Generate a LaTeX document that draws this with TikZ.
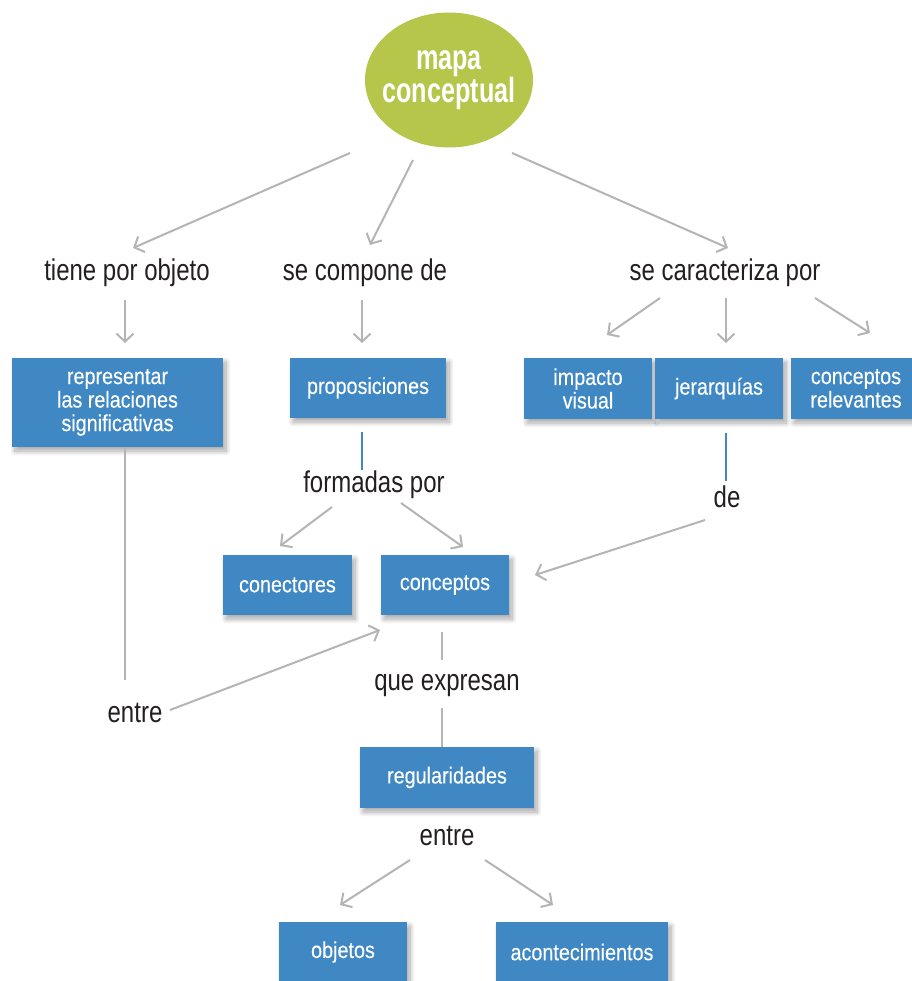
\documentclass[tikz,border=0pt]{standalone}
\usepackage{fontspec}
\setmainfont{Liberation Sans}
\newfontfamily\labfont{Liberation Sans}[FakeStretch=0.8]
\newfontfamily\boxfont{Liberation Sans}[FakeStretch=0.86,FakeBold=0.3]
\newfontfamily\titfont{Liberation Sans}[FakeStretch=0.72]
\usetikzlibrary{arrows.meta,shadows.blur,shapes.geometric}
\definecolor{boxblue}{HTML}{3F88C4}
\definecolor{mapgreen}{HTML}{B5C64A}
\definecolor{linegray}{HTML}{B4B4B4}
\definecolor{labtext}{HTML}{231F20}
\tikzset{
  box/.style={fill=boxblue, text=white, font=\boxfont\fontsize{23}{23.5}\selectfont,
    align=center, inner sep=0pt,
    blur shadow={shadow xshift=3pt, shadow yshift=-4pt, shadow blur steps=10, shadow blur radius=5pt, shadow opacity=35}},
  lab/.style={text=labtext, font=\labfont\fontsize{30}{33}\selectfont, inner sep=0pt, anchor=base},
  arr/.style={draw=linegray, line width=2pt, -{Straight Barb[length=8pt,width=17pt,line width=2pt]}},
  ln/.style={draw=linegray, line width=2pt},
  bln/.style={draw=boxblue, line width=2pt}
}
\begin{document}
\begin{tikzpicture}[x=1pt,y=-1pt]
\useasboundingbox (0,0) rectangle (911,981);
% central ellipse
\node[ellipse, fill=mapgreen, minimum width=168pt, minimum height=135pt, inner sep=0pt] (map) at (449,80) {};
\node[text=white, align=center, inner sep=0pt, font=\titfont\bfseries\fontsize{35}{33}\selectfont] (mapt) at (map.center) {mapa\\conceptual};
% labels
\node[lab] (tpo) at (127,280) {tiene por objeto};
\node[lab] (scd) at (365,280) {se compone de};
\node[lab] (scp) at (725,280) {se caracteriza por};
\node[lab] (fp) at (374,492) {formadas por};
\node[lab] (de) at (727,507) {de};
\node[lab] (ent1) at (135,722) {entre};
\node[lab] (qe) at (447,690) {que expresan};
\node[lab] (ent2) at (447,845) {entre};
% boxes
\node[box, minimum width=211pt, minimum height=89pt] (rep) at (117.5,402.5) {representar\\las relaciones\\significativas};
\node[box, minimum width=156pt, minimum height=60pt] (prop) at (368,388) {proposiciones};
\node[box, minimum width=128pt, minimum height=61pt] (imp) at (588,388.5) {impacto\\visual};
\node[box, minimum width=128pt, minimum height=61pt] (jer) at (719,388.5) {jerarquías};
\node[box, minimum width=130pt, minimum height=61pt] (crel) at (856,388.5) {conceptos\\relevantes};
\node[box, minimum width=129pt, minimum height=60pt] (conec) at (287.5,585) {conectores};
\node[box, minimum width=128pt, minimum height=60pt] (conc) at (445,585) {conceptos};
\node[box, minimum width=174pt, minimum height=61pt] (reg) at (447,777.5) {regularidades};
\node[box, minimum width=128pt, minimum height=60pt] (obj) at (343,952) {objetos};
\node[box, minimum width=172pt, minimum height=60pt] (acon) at (582,952) {acontecimientos};
% connector end points
\coordinate (m1) at (350,153); \coordinate (t1) at (133,248);
\coordinate (m2) at (413,160); \coordinate (t2) at (370,245);
\coordinate (m3) at (512,153); \coordinate (t3) at (728,248);
\coordinate (a4) at (125,300); \coordinate (b4) at (125,343);
\coordinate (a5) at (362,300); \coordinate (b5) at (362,343);
\coordinate (a6) at (660,298); \coordinate (b6) at (607,335);
\coordinate (a7) at (726,298); \coordinate (b7) at (726,343);
\coordinate (a8) at (815,298); \coordinate (b8) at (870,333);
\coordinate (a9) at (362,432); \coordinate (b9) at (362,470);
\coordinate (a10) at (332,507); \coordinate (b10) at (280,546);
\coordinate (a11) at (401,503); \coordinate (b11) at (463,547);
\coordinate (a12) at (726,433); \coordinate (b12) at (726,481);
\coordinate (a13) at (705,520); \coordinate (b13) at (535,575);
\coordinate (a14) at (125,447); \coordinate (b14) at (125,680);
\coordinate (a15) at (170,710); \coordinate (b15) at (380,630);
\coordinate (a16) at (442,632); \coordinate (b16) at (442,660);
\coordinate (a17) at (442,708); \coordinate (b17) at (442,747);
\coordinate (a18) at (410,860); \coordinate (b18) at (340,905);
\coordinate (a19) at (485,860); \coordinate (b19) at (553,905);
% connectors
\draw[arr] (m1) -- (t1);
\draw[arr] (m2) -- (t2);
\draw[arr] (m3) -- (t3);
\draw[arr] (a4) -- (b4);
\draw[arr] (a5) -- (b5);
\draw[arr] (a6) -- (b6);
\draw[arr] (a7) -- (b7);
\draw[arr] (a8) -- (b8);
\draw[bln] (a9) -- (b9);
\draw[arr] (a10) -- (b10);
\draw[arr] (a11) -- (b11);
\draw[bln] (a12) -- (b12);
\draw[arr] (a13) -- (b13);
\draw[ln] (a14) -- (b14);
\draw[arr] (a15) -- (b15);
\draw[ln] (a16) -- (b16);
\draw[ln] (a17) -- (b17);
\draw[arr] (a18) -- (b18);
\draw[arr] (a19) -- (b19);
\end{tikzpicture}
\end{document}
